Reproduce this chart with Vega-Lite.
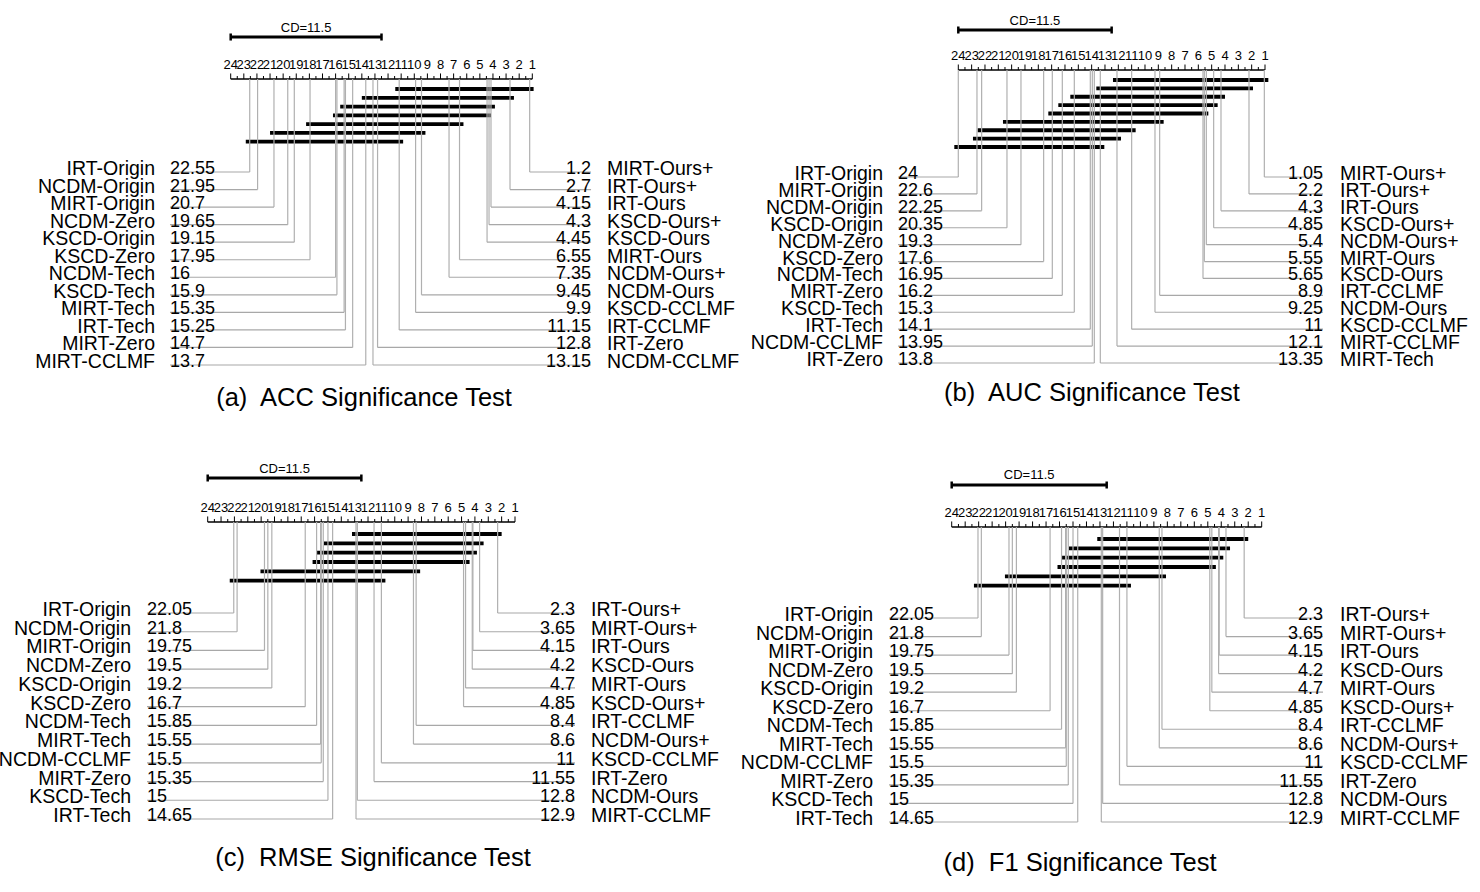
{
"$schema": "https://vega.github.io/schema/vega-lite/v6.json",
"width": 1480, "height": 892, "padding": 0, "autosize": {"type": "none"},
"config": {"view": {"stroke": null}, "font": "Liberation Sans", "axis": {"disable": true}},
"datasets": {
 "major": [{"t":24},{"t":23},{"t":22},{"t":21},{"t":20},{"t":19},{"t":18},{"t":17},{"t":16},{"t":15},{"t":14},{"t":13},{"t":12},{"t":11},{"t":10},{"t":9},{"t":8},{"t":7},{"t":6},{"t":5},{"t":4},{"t":3},{"t":2},{"t":1}],
 "minor": [{"t":23.5},{"t":22.5},{"t":21.5},{"t":20.5},{"t":19.5},{"t":18.5},{"t":17.5},{"t":16.5},{"t":15.5},{"t":14.5},{"t":13.5},{"t":12.5},{"t":11.5},{"t":10.5},{"t":9.5},{"t":8.5},{"t":7.5},{"t":6.5},{"t":5.5},{"t":4.5},{"t":3.5},{"t":2.5},{"t":1.5}],
 "cd": [{"from":24,"to":12.5,"label":"CD=11.5"}],
 "cdends": [{"e":24},{"e":12.5}],
 "titles": [{"panel":"a","title":"(a)\u00a0 ACC Significance Test"},{"panel":"b","title":"(b)\u00a0 AUC Significance Test"},{"panel":"c","title":"(c)\u00a0 RMSE Significance Test"},{"panel":"d","title":"(d)\u00a0 F1 Significance Test"}],
 "a_rows": [
  {"side":"L","order":1,"name":"IRT-Origin","rank":22.55},{"side":"L","order":2,"name":"NCDM-Origin","rank":21.95},{"side":"L","order":3,"name":"MIRT-Origin","rank":20.7},{"side":"L","order":4,"name":"NCDM-Zero","rank":19.65},{"side":"L","order":5,"name":"KSCD-Origin","rank":19.15},{"side":"L","order":6,"name":"KSCD-Zero","rank":17.95},{"side":"L","order":7,"name":"NCDM-Tech","rank":16},{"side":"L","order":8,"name":"KSCD-Tech","rank":15.9},{"side":"L","order":9,"name":"MIRT-Tech","rank":15.35},{"side":"L","order":10,"name":"IRT-Tech","rank":15.25},{"side":"L","order":11,"name":"MIRT-Zero","rank":14.7},{"side":"L","order":12,"name":"MIRT-CCLMF","rank":13.7},
  {"side":"R","order":1,"name":"MIRT-Ours+","rank":1.2},{"side":"R","order":2,"name":"IRT-Ours+","rank":2.7},{"side":"R","order":3,"name":"IRT-Ours","rank":4.15},{"side":"R","order":4,"name":"KSCD-Ours+","rank":4.3},{"side":"R","order":5,"name":"KSCD-Ours","rank":4.45},{"side":"R","order":6,"name":"MIRT-Ours","rank":6.55},{"side":"R","order":7,"name":"NCDM-Ours+","rank":7.35},{"side":"R","order":8,"name":"NCDM-Ours","rank":9.45},{"side":"R","order":9,"name":"KSCD-CCLMF","rank":9.9},{"side":"R","order":10,"name":"IRT-CCLMF","rank":11.15},{"side":"R","order":11,"name":"IRT-Zero","rank":12.8},{"side":"R","order":12,"name":"NCDM-CCLMF","rank":13.15}],
 "a_cl": [{"idx":1,"lo":11.45,"hi":0.9},{"idx":2,"lo":14.0,"hi":2.4},{"idx":3,"lo":15.65,"hi":3.85},{"idx":4,"lo":16.2,"hi":4.15},{"idx":5,"lo":18.25,"hi":6.25},{"idx":6,"lo":21.0,"hi":9.15},{"idx":7,"lo":22.85,"hi":10.85}],
 "b_rows": [
  {"side":"L","order":1,"name":"IRT-Origin","rank":24},{"side":"L","order":2,"name":"MIRT-Origin","rank":22.6},{"side":"L","order":3,"name":"NCDM-Origin","rank":22.25},{"side":"L","order":4,"name":"KSCD-Origin","rank":20.35},{"side":"L","order":5,"name":"NCDM-Zero","rank":19.3},{"side":"L","order":6,"name":"KSCD-Zero","rank":17.6},{"side":"L","order":7,"name":"NCDM-Tech","rank":16.95},{"side":"L","order":8,"name":"MIRT-Zero","rank":16.2},{"side":"L","order":9,"name":"KSCD-Tech","rank":15.3},{"side":"L","order":10,"name":"IRT-Tech","rank":14.1},{"side":"L","order":11,"name":"NCDM-CCLMF","rank":13.95},{"side":"L","order":12,"name":"IRT-Zero","rank":13.8},
  {"side":"R","order":1,"name":"MIRT-Ours+","rank":1.05},{"side":"R","order":2,"name":"IRT-Ours+","rank":2.2},{"side":"R","order":3,"name":"IRT-Ours","rank":4.3},{"side":"R","order":4,"name":"KSCD-Ours+","rank":4.85},{"side":"R","order":5,"name":"NCDM-Ours+","rank":5.4},{"side":"R","order":6,"name":"MIRT-Ours","rank":5.55},{"side":"R","order":7,"name":"KSCD-Ours","rank":5.65},{"side":"R","order":8,"name":"IRT-CCLMF","rank":8.9},{"side":"R","order":9,"name":"NCDM-Ours","rank":9.25},{"side":"R","order":10,"name":"KSCD-CCLMF","rank":11},{"side":"R","order":11,"name":"MIRT-CCLMF","rank":12.1},{"side":"R","order":12,"name":"MIRT-Tech","rank":13.35}],
 "b_cl": [{"idx":1,"lo":12.4,"hi":0.75},{"idx":2,"lo":13.65,"hi":1.9},{"idx":3,"lo":15.6,"hi":4.0},{"idx":4,"lo":16.5,"hi":4.55},{"idx":5,"lo":17.25,"hi":5.25},{"idx":6,"lo":20.65,"hi":8.6},{"idx":7,"lo":22.55,"hi":10.7},{"idx":8,"lo":22.9,"hi":11.8},{"idx":9,"lo":24.3,"hi":13.05}],
 "cd_rows": [
  {"side":"L","order":1,"name":"IRT-Origin","rank":22.05},{"side":"L","order":2,"name":"NCDM-Origin","rank":21.8},{"side":"L","order":3,"name":"MIRT-Origin","rank":19.75},{"side":"L","order":4,"name":"NCDM-Zero","rank":19.5},{"side":"L","order":5,"name":"KSCD-Origin","rank":19.2},{"side":"L","order":6,"name":"KSCD-Zero","rank":16.7},{"side":"L","order":7,"name":"NCDM-Tech","rank":15.85},{"side":"L","order":8,"name":"MIRT-Tech","rank":15.55},{"side":"L","order":9,"name":"NCDM-CCLMF","rank":15.5},{"side":"L","order":10,"name":"MIRT-Zero","rank":15.35},{"side":"L","order":11,"name":"KSCD-Tech","rank":15},{"side":"L","order":12,"name":"IRT-Tech","rank":14.65},
  {"side":"R","order":1,"name":"IRT-Ours+","rank":2.3},{"side":"R","order":2,"name":"MIRT-Ours+","rank":3.65},{"side":"R","order":3,"name":"IRT-Ours","rank":4.15},{"side":"R","order":4,"name":"KSCD-Ours","rank":4.2},{"side":"R","order":5,"name":"MIRT-Ours","rank":4.7},{"side":"R","order":6,"name":"KSCD-Ours+","rank":4.85},{"side":"R","order":7,"name":"IRT-CCLMF","rank":8.4},{"side":"R","order":8,"name":"NCDM-Ours+","rank":8.6},{"side":"R","order":9,"name":"KSCD-CCLMF","rank":11},{"side":"R","order":10,"name":"IRT-Zero","rank":11.55},{"side":"R","order":11,"name":"NCDM-Ours","rank":12.8},{"side":"R","order":12,"name":"MIRT-CCLMF","rank":12.9}],
 "cd_cl": [{"idx":1,"lo":13.2,"hi":2.0},{"idx":2,"lo":15.3,"hi":3.35},{"idx":3,"lo":15.85,"hi":3.85},{"idx":4,"lo":16.15,"hi":4.4},{"idx":5,"lo":20.05,"hi":8.1},{"idx":6,"lo":22.35,"hi":10.7}]
},
"layer": [
 {"layer": [
  {"layer": [
   {"data": {"name": "cd"}, "mark": {"type": "rule", "strokeWidth": 3, "color": "black"},
    "encoding": {"x": {"field": "from", "type": "quantitative", "scale": {"domain": [24, 1], "range": [230.7, 532.3], "nice": false, "zero": false}, "axis": null}, "x2": {"field": "to"},
     "y": {"datum": -4.921, "type": "quantitative", "scale": {"domain": [1, 7], "range": [89, 141.7], "nice": false, "zero": false}, "axis": null}}},
   {"data": {"name": "cdends"}, "mark": {"type": "rule", "strokeWidth": 2.5, "color": "black"},
    "encoding": {"x": {"field": "e", "type": "quantitative"}, "y": {"datum": -5.32, "type": "quantitative"}, "y2": {"datum": -4.52}}},
   {"data": {"name": "cd"}, "mark": {"type": "text", "fontSize": 13, "baseline": "middle", "align": "center"},
    "encoding": {"x": {"datum": 18.25, "type": "quantitative"}, "y": {"datum": -5.945, "type": "quantitative"}, "text": {"field": "label"}}},
   {"data": {"name": "cd"}, "mark": {"type": "rule", "strokeWidth": 1.5, "color": "black"},
    "encoding": {"x": {"datum": 24, "type": "quantitative"}, "x2": {"datum": 1}, "y": {"datum": -0.139, "type": "quantitative"}}},
   {"data": {"name": "major"}, "mark": {"type": "rule", "strokeWidth": 1, "color": "black"},
    "encoding": {"x": {"field": "t", "type": "quantitative"}, "y": {"datum": -0.139, "type": "quantitative"}, "y2": {"datum": -0.77}}},
   {"data": {"name": "minor"}, "mark": {"type": "rule", "strokeWidth": 1, "color": "black"},
    "encoding": {"x": {"field": "t", "type": "quantitative"}, "y": {"datum": -0.139, "type": "quantitative"}, "y2": {"datum": -0.48}}},
   {"data": {"name": "major"}, "mark": {"type": "text", "fontSize": 13, "baseline": "middle", "align": "center"},
    "encoding": {"x": {"field": "t", "type": "quantitative"}, "y": {"datum": -1.733, "type": "quantitative"}, "text": {"field": "t", "type": "nominal"}}},
   {"data": {"name": "a_cl"}, "mark": {"type": "rule", "strokeWidth": 3.8, "color": "black"},
    "encoding": {"x": {"field": "lo", "type": "quantitative"}, "x2": {"field": "hi"}, "y": {"field": "idx", "type": "quantitative"}}},
   {"data": {"name": "titles"}, "transform": [{"filter": "datum.panel == 'a'"}], "mark": {"type": "text", "fontSize": 25.5, "baseline": "middle", "align": "center"},
    "encoding": {"x": {"datum": 13.83, "type": "quantitative"}, "y": {"datum": 36.18, "type": "quantitative"}, "text": {"field": "title"}}}
  ]},
  {"data": {"name": "a_rows"}, "layer": [
   {"mark": {"type": "rule", "strokeWidth": 1.2, "color": "#b0b0b0"},
    "encoding": {"x": {"field": "rank", "type": "quantitative"}, "y": {"field": "order", "type": "quantitative", "scale": {"domain": [1, 12], "range": [172, 365], "nice": false, "zero": false}, "axis": null}, "y2": {"datum": -4.30}}},
   {"transform": [{"filter": "datum.side == 'L'"}], "mark": {"type": "rule", "strokeWidth": 1.2, "color": "#a8a8a8"},
    "encoding": {"x": {"field": "rank", "type": "quantitative"}, "x2": {"datum": 28.63}, "y": {"field": "order", "type": "quantitative"}}},
   {"transform": [{"filter": "datum.side == 'R'"}], "mark": {"type": "rule", "strokeWidth": 1.2, "color": "#a8a8a8"},
    "encoding": {"x": {"field": "rank", "type": "quantitative"}, "x2": {"datum": -3.48}, "y": {"field": "order", "type": "quantitative"}}},
   {"transform": [{"filter": "datum.side == 'L'"}], "mark": {"type": "text", "fontSize": 18, "align": "left", "baseline": "middle", "dy": -3},
    "encoding": {"x": {"datum": 28.63, "type": "quantitative"}, "y": {"field": "order", "type": "quantitative"}, "text": {"field": "rank", "type": "nominal"}}},
   {"transform": [{"filter": "datum.side == 'L'"}], "mark": {"type": "text", "fontSize": 19.5, "align": "right", "baseline": "middle", "dy": -3},
    "encoding": {"x": {"datum": 29.77, "type": "quantitative"}, "y": {"field": "order", "type": "quantitative"}, "text": {"field": "name"}}},
   {"transform": [{"filter": "datum.side == 'R'"}], "mark": {"type": "text", "fontSize": 18, "align": "right", "baseline": "middle", "dy": -3},
    "encoding": {"x": {"datum": -3.48, "type": "quantitative"}, "y": {"field": "order", "type": "quantitative"}, "text": {"field": "rank", "type": "nominal"}}},
   {"transform": [{"filter": "datum.side == 'R'"}], "mark": {"type": "text", "fontSize": 19.5, "align": "left", "baseline": "middle", "dy": -3},
    "encoding": {"x": {"datum": -4.70, "type": "quantitative"}, "y": {"field": "order", "type": "quantitative"}, "text": {"field": "name"}}}
  ]}
 ], "resolve": {"scale": {"y": "independent"}}},

 {"layer": [
  {"layer": [
   {"data": {"name": "cd"}, "mark": {"type": "rule", "strokeWidth": 3, "color": "black"},
    "encoding": {"x": {"field": "from", "type": "quantitative", "scale": {"domain": [24, 1], "range": [958.3, 1265], "nice": false, "zero": false}, "axis": null}, "x2": {"field": "to"},
     "y": {"datum": -4.970, "type": "quantitative", "scale": {"domain": [1, 9], "range": [80, 147], "nice": false, "zero": false}, "axis": null}}},
   {"data": {"name": "cdends"}, "mark": {"type": "rule", "strokeWidth": 2.5, "color": "black"},
    "encoding": {"x": {"field": "e", "type": "quantitative"}, "y": {"datum": -5.388, "type": "quantitative"}, "y2": {"datum": -4.552}}},
   {"data": {"name": "cd"}, "mark": {"type": "text", "fontSize": 13, "baseline": "middle", "align": "center"},
    "encoding": {"x": {"datum": 18.25, "type": "quantitative"}, "y": {"datum": -6.045, "type": "quantitative"}, "text": {"field": "label"}}},
   {"data": {"name": "cd"}, "mark": {"type": "rule", "strokeWidth": 1.5, "color": "black"},
    "encoding": {"x": {"datum": 24, "type": "quantitative"}, "x2": {"datum": 1}, "y": {"datum": -0.194, "type": "quantitative"}}},
   {"data": {"name": "major"}, "mark": {"type": "rule", "strokeWidth": 1, "color": "black"},
    "encoding": {"x": {"field": "t", "type": "quantitative"}, "y": {"datum": -0.194, "type": "quantitative"}, "y2": {"datum": -0.85}}},
   {"data": {"name": "minor"}, "mark": {"type": "rule", "strokeWidth": 1, "color": "black"},
    "encoding": {"x": {"field": "t", "type": "quantitative"}, "y": {"datum": -0.194, "type": "quantitative"}, "y2": {"datum": -0.552}}},
   {"data": {"name": "major"}, "mark": {"type": "text", "fontSize": 13, "baseline": "middle", "align": "center"},
    "encoding": {"x": {"field": "t", "type": "quantitative"}, "y": {"datum": -1.866, "type": "quantitative"}, "text": {"field": "t", "type": "nominal"}}},
   {"data": {"name": "b_cl"}, "mark": {"type": "rule", "strokeWidth": 3.8, "color": "black"},
    "encoding": {"x": {"field": "lo", "type": "quantitative"}, "x2": {"field": "hi"}, "y": {"field": "idx", "type": "quantitative"}}},
   {"data": {"name": "titles"}, "transform": [{"filter": "datum.panel == 'b'"}], "mark": {"type": "text", "fontSize": 25.5, "baseline": "middle", "align": "center"},
    "encoding": {"x": {"datum": 13.974, "type": "quantitative"}, "y": {"datum": 38.37, "type": "quantitative"}, "text": {"field": "title"}}}
  ]},
  {"data": {"name": "b_rows"}, "layer": [
   {"mark": {"type": "rule", "strokeWidth": 1.2, "color": "#b0b0b0"},
    "encoding": {"x": {"field": "rank", "type": "quantitative"}, "y": {"field": "order", "type": "quantitative", "scale": {"domain": [1, 12], "range": [177, 363], "nice": false, "zero": false}, "axis": null}, "y2": {"datum": -5.328}}},
   {"transform": [{"filter": "datum.side == 'L'"}], "mark": {"type": "rule", "strokeWidth": 1.2, "color": "#a8a8a8"},
    "encoding": {"x": {"field": "rank", "type": "quantitative"}, "x2": {"datum": 28.522}, "y": {"field": "order", "type": "quantitative"}}},
   {"transform": [{"filter": "datum.side == 'R'"}], "mark": {"type": "rule", "strokeWidth": 1.2, "color": "#a8a8a8"},
    "encoding": {"x": {"field": "rank", "type": "quantitative"}, "x2": {"datum": -3.349}, "y": {"field": "order", "type": "quantitative"}}},
   {"transform": [{"filter": "datum.side == 'L'"}], "mark": {"type": "text", "fontSize": 18, "align": "left", "baseline": "middle", "dy": -3},
    "encoding": {"x": {"datum": 28.522, "type": "quantitative"}, "y": {"field": "order", "type": "quantitative"}, "text": {"field": "rank", "type": "nominal"}}},
   {"transform": [{"filter": "datum.side == 'L'"}], "mark": {"type": "text", "fontSize": 19.5, "align": "right", "baseline": "middle", "dy": -3},
    "encoding": {"x": {"datum": 29.647, "type": "quantitative"}, "y": {"field": "order", "type": "quantitative"}, "text": {"field": "name"}}},
   {"transform": [{"filter": "datum.side == 'R'"}], "mark": {"type": "text", "fontSize": 18, "align": "right", "baseline": "middle", "dy": -3},
    "encoding": {"x": {"datum": -3.349, "type": "quantitative"}, "y": {"field": "order", "type": "quantitative"}, "text": {"field": "rank", "type": "nominal"}}},
   {"transform": [{"filter": "datum.side == 'R'"}], "mark": {"type": "text", "fontSize": 19.5, "align": "left", "baseline": "middle", "dy": -3},
    "encoding": {"x": {"datum": -4.624, "type": "quantitative"}, "y": {"field": "order", "type": "quantitative"}, "text": {"field": "name"}}}
  ]}
 ], "resolve": {"scale": {"y": "independent"}}},

 {"layer": [
  {"layer": [
   {"data": {"name": "cd"}, "mark": {"type": "rule", "strokeWidth": 3, "color": "black"},
    "encoding": {"x": {"field": "from", "type": "quantitative", "scale": {"domain": [24, 1], "range": [207.7, 515], "nice": false, "zero": false}, "axis": null}, "x2": {"field": "to"},
     "y": {"datum": -4.996, "type": "quantitative", "scale": {"domain": [1, 6], "range": [534, 580.7], "nice": false, "zero": false}, "axis": null}}},
   {"data": {"name": "cdends"}, "mark": {"type": "rule", "strokeWidth": 2.5, "color": "black"},
    "encoding": {"x": {"field": "e", "type": "quantitative"}, "y": {"datum": -5.371, "type": "quantitative"}, "y2": {"datum": -4.621}}},
   {"data": {"name": "cd"}, "mark": {"type": "text", "fontSize": 13, "baseline": "middle", "align": "center"},
    "encoding": {"x": {"datum": 18.25, "type": "quantitative"}, "y": {"datum": -5.959, "type": "quantitative"}, "text": {"field": "label"}}},
   {"data": {"name": "cd"}, "mark": {"type": "rule", "strokeWidth": 1.5, "color": "black"},
    "encoding": {"x": {"datum": 24, "type": "quantitative"}, "x2": {"datum": 1}, "y": {"datum": -0.285, "type": "quantitative"}}},
   {"data": {"name": "major"}, "mark": {"type": "rule", "strokeWidth": 1, "color": "black"},
    "encoding": {"x": {"field": "t", "type": "quantitative"}, "y": {"datum": -0.285, "type": "quantitative"}, "y2": {"datum": -0.88}}},
   {"data": {"name": "minor"}, "mark": {"type": "rule", "strokeWidth": 1, "color": "black"},
    "encoding": {"x": {"field": "t", "type": "quantitative"}, "y": {"datum": -0.285, "type": "quantitative"}, "y2": {"datum": -0.606}}},
   {"data": {"name": "major"}, "mark": {"type": "text", "fontSize": 13, "baseline": "middle", "align": "center"},
    "encoding": {"x": {"field": "t", "type": "quantitative"}, "y": {"datum": -1.784, "type": "quantitative"}, "text": {"field": "t", "type": "nominal"}}},
   {"data": {"name": "cd_cl"}, "mark": {"type": "rule", "strokeWidth": 3.8, "color": "black"},
    "encoding": {"x": {"field": "lo", "type": "quantitative"}, "x2": {"field": "hi"}, "y": {"field": "idx", "type": "quantitative"}}},
   {"data": {"name": "titles"}, "transform": [{"filter": "datum.panel == 'c'"}], "mark": {"type": "text", "fontSize": 25.5, "baseline": "middle", "align": "center"},
    "encoding": {"x": {"datum": 11.628, "type": "quantitative"}, "y": {"datum": 35.69, "type": "quantitative"}, "text": {"field": "title"}}}
  ]},
  {"data": {"name": "cd_rows"}, "layer": [
   {"mark": {"type": "rule", "strokeWidth": 1.2, "color": "#b0b0b0"},
    "encoding": {"x": {"field": "rank", "type": "quantitative"}, "y": {"field": "order", "type": "quantitative", "scale": {"domain": [1, 12], "range": [613, 819], "nice": false, "zero": false}, "axis": null}, "y2": {"datum": -3.859}}},
   {"transform": [{"filter": "datum.side == 'L'"}], "mark": {"type": "rule", "strokeWidth": 1.2, "color": "#a8a8a8"},
    "encoding": {"x": {"field": "rank", "type": "quantitative"}, "x2": {"datum": 28.543}, "y": {"field": "order", "type": "quantitative"}}},
   {"transform": [{"filter": "datum.side == 'R'"}], "mark": {"type": "rule", "strokeWidth": 1.2, "color": "#a8a8a8"},
    "encoding": {"x": {"field": "rank", "type": "quantitative"}, "x2": {"datum": -3.491}, "y": {"field": "order", "type": "quantitative"}}},
   {"transform": [{"filter": "datum.side == 'L'"}], "mark": {"type": "text", "fontSize": 18, "align": "left", "baseline": "middle", "dy": -3},
    "encoding": {"x": {"datum": 28.543, "type": "quantitative"}, "y": {"field": "order", "type": "quantitative"}, "text": {"field": "rank", "type": "nominal"}}},
   {"transform": [{"filter": "datum.side == 'L'"}], "mark": {"type": "text", "fontSize": 19.5, "align": "right", "baseline": "middle", "dy": -3},
    "encoding": {"x": {"datum": 29.74, "type": "quantitative"}, "y": {"field": "order", "type": "quantitative"}, "text": {"field": "name"}}},
   {"transform": [{"filter": "datum.side == 'R'"}], "mark": {"type": "text", "fontSize": 18, "align": "right", "baseline": "middle", "dy": -3},
    "encoding": {"x": {"datum": -3.491, "type": "quantitative"}, "y": {"field": "order", "type": "quantitative"}, "text": {"field": "rank", "type": "nominal"}}},
   {"transform": [{"filter": "datum.side == 'R'"}], "mark": {"type": "text", "fontSize": 19.5, "align": "left", "baseline": "middle", "dy": -3},
    "encoding": {"x": {"datum": -4.689, "type": "quantitative"}, "y": {"field": "order", "type": "quantitative"}, "text": {"field": "name"}}}
  ]}
 ], "resolve": {"scale": {"y": "independent"}}},

 {"layer": [
  {"layer": [
   {"data": {"name": "cd"}, "mark": {"type": "rule", "strokeWidth": 3, "color": "black"},
    "encoding": {"x": {"field": "from", "type": "quantitative", "scale": {"domain": [24, 1], "range": [951.7, 1261.7], "nice": false, "zero": false}, "axis": null}, "x2": {"field": "to"},
     "y": {"datum": -4.782, "type": "quantitative", "scale": {"domain": [1, 6], "range": [539, 585.7], "nice": false, "zero": false}, "axis": null}}},
   {"data": {"name": "cdends"}, "mark": {"type": "rule", "strokeWidth": 2.5, "color": "black"},
    "encoding": {"x": {"field": "e", "type": "quantitative"}, "y": {"datum": -5.156, "type": "quantitative"}, "y2": {"datum": -4.407}}},
   {"data": {"name": "cd"}, "mark": {"type": "text", "fontSize": 13, "baseline": "middle", "align": "center"},
    "encoding": {"x": {"datum": 18.25, "type": "quantitative"}, "y": {"datum": -5.852, "type": "quantitative"}, "text": {"field": "label"}}},
   {"data": {"name": "cd"}, "mark": {"type": "rule", "strokeWidth": 1.5, "color": "black"},
    "encoding": {"x": {"datum": 24, "type": "quantitative"}, "x2": {"datum": 1}, "y": {"datum": -0.285, "type": "quantitative"}}},
   {"data": {"name": "major"}, "mark": {"type": "rule", "strokeWidth": 1, "color": "black"},
    "encoding": {"x": {"field": "t", "type": "quantitative"}, "y": {"datum": -0.285, "type": "quantitative"}, "y2": {"datum": -0.88}}},
   {"data": {"name": "minor"}, "mark": {"type": "rule", "strokeWidth": 1, "color": "black"},
    "encoding": {"x": {"field": "t", "type": "quantitative"}, "y": {"datum": -0.285, "type": "quantitative"}, "y2": {"datum": -0.606}}},
   {"data": {"name": "major"}, "mark": {"type": "text", "fontSize": 13, "baseline": "middle", "align": "center"},
    "encoding": {"x": {"field": "t", "type": "quantitative"}, "y": {"datum": -1.784, "type": "quantitative"}, "text": {"field": "t", "type": "nominal"}}},
   {"data": {"name": "cd_cl"}, "mark": {"type": "rule", "strokeWidth": 3.8, "color": "black"},
    "encoding": {"x": {"field": "lo", "type": "quantitative"}, "x2": {"field": "hi"}, "y": {"field": "idx", "type": "quantitative"}}},
   {"data": {"name": "titles"}, "transform": [{"filter": "datum.panel == 'd'"}], "mark": {"type": "text", "fontSize": 25.5, "baseline": "middle", "align": "center"},
    "encoding": {"x": {"datum": 14.481, "type": "quantitative"}, "y": {"datum": 35.69, "type": "quantitative"}, "text": {"field": "title"}}}
  ]},
  {"data": {"name": "cd_rows"}, "layer": [
   {"mark": {"type": "rule", "strokeWidth": 1.2, "color": "#b0b0b0"},
    "encoding": {"x": {"field": "rank", "type": "quantitative"}, "y": {"field": "order", "type": "quantitative", "scale": {"domain": [1, 12], "range": [618, 822], "nice": false, "zero": false}, "axis": null}, "y2": {"datum": -3.907}}},
   {"transform": [{"filter": "datum.side == 'L'"}], "mark": {"type": "rule", "strokeWidth": 1.2, "color": "#a8a8a8"},
    "encoding": {"x": {"field": "rank", "type": "quantitative"}, "x2": {"datum": 28.652}, "y": {"field": "order", "type": "quantitative"}}},
   {"transform": [{"filter": "datum.side == 'R'"}], "mark": {"type": "rule", "strokeWidth": 1.2, "color": "#a8a8a8"},
    "encoding": {"x": {"field": "rank", "type": "quantitative"}, "x2": {"datum": -3.549}, "y": {"field": "order", "type": "quantitative"}}},
   {"transform": [{"filter": "datum.side == 'L'"}], "mark": {"type": "text", "fontSize": 18, "align": "left", "baseline": "middle", "dy": -3},
    "encoding": {"x": {"datum": 28.652, "type": "quantitative"}, "y": {"field": "order", "type": "quantitative"}, "text": {"field": "rank", "type": "nominal"}}},
   {"transform": [{"filter": "datum.side == 'L'"}], "mark": {"type": "text", "fontSize": 19.5, "align": "right", "baseline": "middle", "dy": -3},
    "encoding": {"x": {"datum": 29.839, "type": "quantitative"}, "y": {"field": "order", "type": "quantitative"}, "text": {"field": "name"}}},
   {"transform": [{"filter": "datum.side == 'R'"}], "mark": {"type": "text", "fontSize": 18, "align": "right", "baseline": "middle", "dy": -3},
    "encoding": {"x": {"datum": -3.549, "type": "quantitative"}, "y": {"field": "order", "type": "quantitative"}, "text": {"field": "rank", "type": "nominal"}}},
   {"transform": [{"filter": "datum.side == 'R'"}], "mark": {"type": "text", "fontSize": 19.5, "align": "left", "baseline": "middle", "dy": -3},
    "encoding": {"x": {"datum": -4.81, "type": "quantitative"}, "y": {"field": "order", "type": "quantitative"}, "text": {"field": "name"}}}
  ]}
 ], "resolve": {"scale": {"y": "independent"}}}
],
"resolve": {"scale": {"x": "independent", "y": "independent"}}
}
